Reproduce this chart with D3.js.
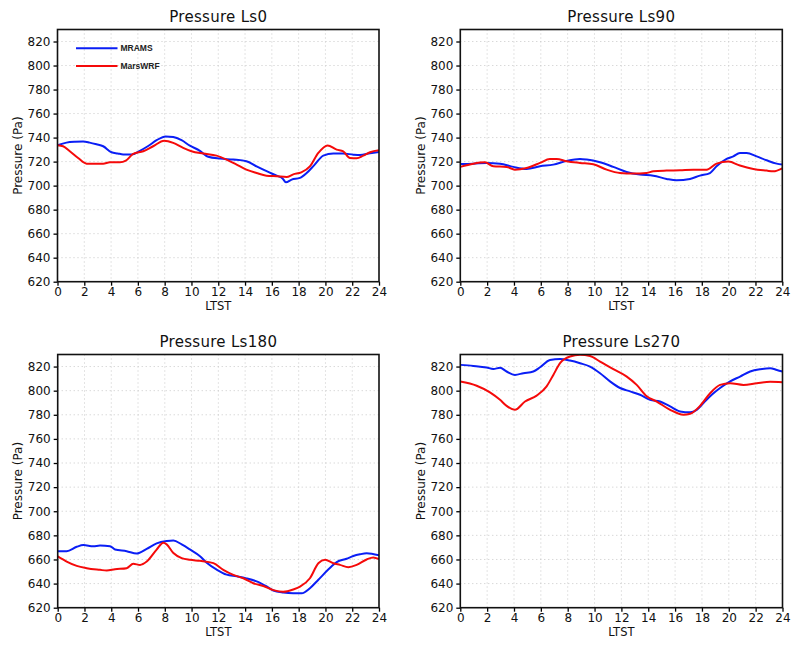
<!DOCTYPE html>
<html><head><meta charset="utf-8">
<script src="https://cdn.jsdelivr.net/npm/d3@7"></script>
<style>body{margin:0;background:#fff} svg{display:block}</style>
</head><body>
<svg id="c" width="800" height="645"></svg>
<script>
const titles = ["Pressure Ls0", "Pressure Ls90", "Pressure Ls180", "Pressure Ls270"];
const seriesNames = ["MRAMS", "MarsWRF"];
const xTicks = [0, 2, 4, 6, 8, 10, 12, 14, 16, 18, 20, 22, 24];
const yTicks = [620, 640, 660, 680, 700, 720, 740, 760, 780, 800, 820];
const xLabel = "LTST";
const yLabel = "Pressure (Pa)";

const ls0_mrams = [[0,733.6],[0.67,735.8],[1.3,736.5],[1.92,736.7],[2.4,735.8],[2.91,734.4],[3.41,732.8],[4.03,727.8],[4.5,726.8],[4.9,726],[5.53,726],[6.15,729],[6.77,733],[7.4,737.8],[8.07,741],[8.64,740.5],[9.26,737.8],[9.88,733.3],[10.63,729],[11.25,724],[12.12,722.5],[13.12,721.7],[14.1,720.3],[14.86,716],[15.61,712],[16.36,708.3],[16.8,706],[17.05,702.8],[17.48,705],[18.1,706.4],[18.6,710.5],[19.2,717.5],[19.84,725],[20.59,726.7],[21.33,726.7],[22.08,725.8],[22.58,725.5],[23.33,727],[24,728]];
const ls0_marswrf = [[0,733.6],[0.42,732.8],[0.92,728.6],[1.54,723],[2.17,718.3],[2.91,718.3],[3.41,718.3],[3.91,719.4],[4.66,719.4],[5.1,720.8],[5.65,726.4],[6.4,728.6],[7.14,732.8],[7.97,737.4],[8.64,735.6],[9.38,731.4],[10.0,728.6],[10.88,726.7],[11.87,725],[12.62,721.7],[13.37,717.5],[14.1,713.3],[14.86,710.5],[15.6,708.3],[16.36,707.8],[17.1,707.2],[17.6,709.4],[18.2,711],[18.84,716],[19.47,727.2],[20.16,733.5],[20.84,730],[21.33,728.6],[21.83,723],[22.33,722.8],[22.83,725],[23.33,727.8],[24,729.4]];
const ls90_mrams = [[0,718],[0.97,718.3],[1.96,718.9],[2.96,718.3],[3.95,715.6],[4.94,713.9],[5.94,716.1],[6.93,717.5],[7.93,720.6],[8.92,722.2],[9.42,721.7],[10.41,719.4],[11.4,715.6],[12.4,711.4],[13.39,709.2],[14.39,708.3],[15.38,705.6],[16.12,704.4],[17.12,705.6],[17.86,708.3],[18.61,710.5],[19.1,716.1],[19.85,722.2],[20.35,724.4],[20.84,727.2],[21.34,727.2],[22.09,724.4],[22.83,721.1],[23.58,718.3],[24,717.5]];
const ls90_marswrf = [[0,715.6],[0.97,718.3],[1.84,719.4],[2.46,716.1],[3.45,715.6],[4.07,713.3],[4.94,714.7],[5.94,718.9],[6.68,722.2],[7.18,722.2],[7.93,720.3],[8.92,718.9],[9.91,717.8],[10.91,713.3],[11.9,710.5],[12.89,710],[13.89,710.5],[14.39,711.9],[15.38,712.5],[16.37,712.8],[17.37,713.3],[18.36,713.3],[19.1,718.3],[19.98,720],[20.84,716.7],[21.84,713.9],[22.83,712.5],[23.33,711.9],[24,714.4]];
const ls180_mrams = [[0,666.9],[0.67,666.9],[1.42,670.5],[1.92,671.9],[2.66,671],[3.16,671.5],[3.91,671],[4.28,668.3],[5.15,666.9],[5.9,664.9],[6.65,668.8],[7.39,673.3],[8.14,675.3],[8.64,675.8],[9.26,672.5],[9.88,668.3],[10.63,662.7],[11.13,657.2],[11.87,651.6],[12.62,647.4],[13.37,646],[14.11,644.3],[14.86,641.8],[15.61,637.6],[16.11,634.3],[16.85,632.6],[17.6,632],[18.22,632],[18.84,636.2],[19.47,643.2],[20.21,651.6],[20.84,657.8],[21.58,660.6],[22.08,662.9],[22.58,664.3],[23.08,665.1],[24,663.4]];
const ls180_marswrf = [[0,662.5],[0.67,658.3],[1.42,654.7],[2.17,652.8],[3.16,651.4],[3.66,650.8],[4.28,651.9],[5.15,652.8],[5.65,656.4],[6.15,655.5],[6.65,658.3],[7.39,668.2],[7.89,673.9],[8.14,672.5],[8.64,665.3],[9.26,661.1],[9.88,659.7],[10.63,658.9],[11.63,657],[12.37,651.4],[13.12,647.2],[13.87,644.4],[14.61,640.3],[15.36,638],[16.11,634.6],[16.85,633.2],[17.6,635.1],[18.1,637.4],[18.84,644.4],[19.47,656.9],[19.97,659.7],[20.59,656.9],[21.09,655.5],[21.71,653.6],[22.33,655.5],[23.08,660],[23.57,661.7],[24,660.3]];
const ls270_mrams = [[0,821.4],[0.97,820.5],[1.96,819.2],[2.46,818],[2.96,819],[3.45,815.9],[4.07,813.1],[4.7,814.5],[5.44,815.9],[5.94,819.4],[6.68,825.5],[7.43,826.3],[8.17,825],[8.92,822.8],[9.66,820],[10.41,814.5],[11.15,807.7],[11.9,802.2],[12.65,799.4],[13.39,796.6],[14.14,792.4],[14.88,791],[15.63,786.9],[16.37,782.8],[17.12,782],[17.61,784.1],[18.11,789.7],[18.73,796.6],[19.35,802.2],[20.1,807.7],[20.84,811.7],[21.59,815.9],[22.34,817.8],[23.08,818.6],[23.58,817.2],[24,815.9]];
const ls270_marswrf = [[0,807.6],[1.22,804.1],[2.21,798.6],[2.96,792.4],[3.45,787.4],[4.07,784.1],[4.82,791],[5.69,795.9],[6.43,803.6],[6.93,813.1],[7.43,822.8],[8.17,828.3],[8.92,829.7],[9.66,828.8],[10.41,824.1],[11.4,817.8],[12.4,811.7],[13.14,804.8],[13.89,795.3],[14.63,791],[15.63,784.1],[16.62,780],[17.12,780.8],[17.86,787.4],[18.61,797.9],[19.35,804.8],[20.1,806.2],[21.09,804.8],[22.09,806.2],[23.08,807.3],[24,807]];

const panelData = [
  [ls0_mrams, ls0_marswrf],
  [ls90_mrams, ls90_marswrf],
  [ls180_mrams, ls180_marswrf],
  [ls270_mrams, ls270_marswrf]
];
const colors = ["#0a1ef5", "#f50a0a"];

const boxes = [
  {l: 57.5, r: 379, t: 29.5, b: 281.7},
  {l: 460.3, r: 782.3, t: 29.5, b: 281.7},
  {l: 57.7, r: 379, t: 354.5, b: 607.7},
  {l: 460.3, r: 782.5, t: 354.5, b: 607.7}
];

const svg = d3.select("#c");
const font = "'DejaVu Sans', sans-serif";

boxes.forEach((bx, i) => {
  const x = d3.scaleLinear().domain([0, 24]).range([bx.l, bx.r]);
  const y = d3.scaleLinear().domain([620, 830]).range([bx.b, bx.t]);
  const g = svg.append("g");

  // grid
  g.append("g").selectAll("line").data(xTicks.filter(v => v > 0 && v < 24)).join("line")
    .attr("x1", d => x(d)).attr("x2", d => x(d)).attr("y1", bx.t).attr("y2", bx.b)
    .attr("stroke", "#c8c8c8").attr("stroke-width", 1).attr("stroke-dasharray", "1,3");
  g.append("g").selectAll("line").data(yTicks.filter(v => v > 620)).join("line")
    .attr("x1", bx.l).attr("x2", bx.r).attr("y1", d => y(d)).attr("y2", d => y(d))
    .attr("stroke", "#c8c8c8").attr("stroke-width", 1).attr("stroke-dasharray", "1,3");

  // lines
  const clipId = "clip" + i;
  svg.append("clipPath").attr("id", clipId).append("rect")
    .attr("x", bx.l).attr("y", bx.t).attr("width", bx.r - bx.l).attr("height", bx.b - bx.t);
  const line = d3.line().x(d => x(d[0])).y(d => y(d[1])).curve(d3.curveMonotoneX);
  panelData[i].forEach((s, k) => {
    g.append("path").datum(s).attr("d", line).attr("fill", "none")
      .attr("stroke", colors[k]).attr("stroke-width", 2).attr("clip-path", `url(#${clipId})`);
  });

  // axes
  const ax = g.append("g").attr("transform", `translate(0,${bx.b})`)
    .call(d3.axisBottom(x).tickValues(xTicks).tickSize(4).tickPadding(2).tickFormat(d3.format("d")));
  const ay = g.append("g").attr("transform", `translate(${bx.l},0)`)
    .call(d3.axisLeft(y).tickValues(yTicks).tickSize(4).tickPadding(3).tickFormat(d3.format("d")));
  [ax, ay].forEach(a => {
    a.select(".domain").remove();
    a.selectAll(".tick line").attr("stroke", "#000").attr("stroke-width", 1.3);
    a.selectAll(".tick text").attr("font-family", font).attr("font-size", 12).attr("fill", "#111");
  });

  // frame
  g.append("rect").attr("x", bx.l).attr("y", bx.t).attr("width", bx.r - bx.l).attr("height", bx.b - bx.t)
    .attr("fill", "none").attr("stroke", "#111").attr("stroke-width", 1.6);

  // title
  g.append("text").attr("x", (bx.l + bx.r) / 2).attr("y", bx.t - 8).attr("text-anchor", "middle")
    .attr("font-family", font).attr("font-size", 15).attr("letter-spacing", 0.3).attr("fill", "#111").text(titles[i]);
  // x label
  g.append("text").attr("x", (bx.l + bx.r) / 2).attr("y", bx.b + 28).attr("text-anchor", "middle")
    .attr("font-family", font).attr("font-size", 11.5).attr("fill", "#111").text(xLabel);
  // y label
  g.append("text").attr("transform", `translate(${bx.l - 35.5},${(bx.t + bx.b) / 2}) rotate(-90)`)
    .attr("text-anchor", "middle").attr("font-family", font).attr("font-size", 12).attr("fill", "#111").text(yLabel);

  // legend in first panel
  if (i === 0) {
    const ly = [48.3, 66];
    seriesNames.forEach((n, k) => {
      g.append("line").attr("x1", 76).attr("x2", 117.5).attr("y1", ly[k]).attr("y2", ly[k])
        .attr("stroke", colors[k]).attr("stroke-width", 2);
      g.append("text").attr("x", 120.5).attr("y", ly[k] + 2.5)
        .attr("font-family", "'Liberation Sans', Arial, sans-serif").attr("font-weight", "bold")
        .attr("font-size", 8.5).attr("fill", "#222").text(n);
    });
  }
});
</script>
</body></html>
